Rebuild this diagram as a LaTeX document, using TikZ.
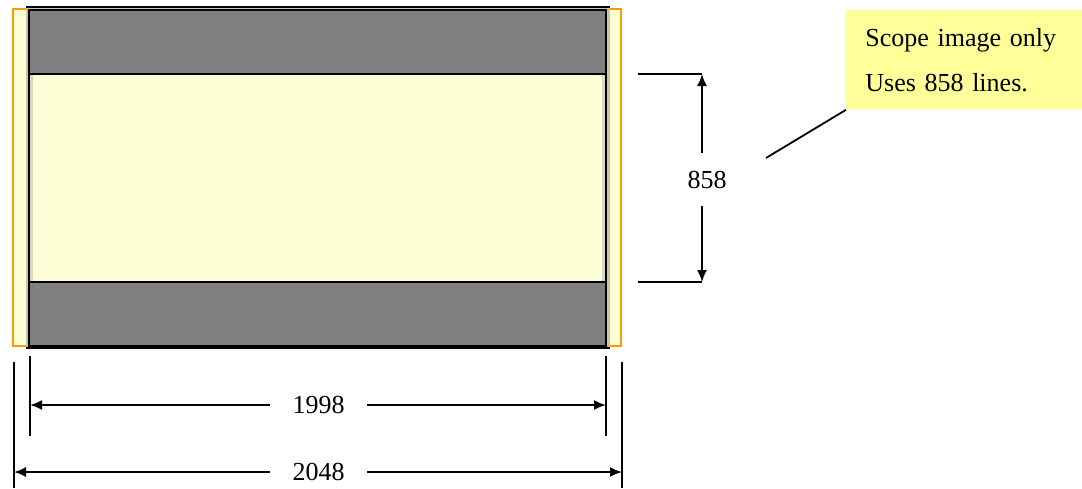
\documentclass[tikz,border=0pt]{standalone}
\usepackage{fontspec}
\setmainfont{Liberation Serif}
\usepackage{tikz}
\usetikzlibrary{arrows.meta}
\definecolor{filmyellow}{RGB}{255,255,215}
\definecolor{maskgray}{RGB}{128,128,128}
\definecolor{frameorange}{RGB}{255,153,0}
\definecolor{shadekhaki}{RGB}{200,200,160}
\definecolor{noteyellow}{RGB}{255,255,153}

\begin{document}
\begin{tikzpicture}[x=0.5pt,y=-0.5pt,
   extline/.style={line width=0.9pt},
   dimarrow/.style={line width=0.9pt,-{Latex[length=6pt,width=5pt]}},
   dimlabel/.style={font=\fontsize{13}{15.6}\selectfont,inner sep=0pt},
   note/.style={fill=noteyellow,anchor=north west,inner xsep=9.5pt,inner ysep=0pt,
     text width=99pt,minimum height=49.5pt,align=left,font=\fontsize{13}{22.5}\selectfont}]
\useasboundingbox (0,0) rectangle (1082,488);
% frames
\filldraw[fill=filmyellow,draw=frameorange,line width=1.25pt] (13,9) rectangle (621,346);
\fill[shadekhaki] (26,8) rectangle (610,348);
\draw[line width=1.25pt] (26,7) -- (610,7) (26,348) -- (610,348);
\fill[filmyellow] (29,74) rectangle (606,282);
\fill[shadekhaki!70] (29,74) rectangle (33,282) (602,74) rectangle (606,282);
\filldraw[fill=maskgray,line width=1pt] (29,10) rectangle (606,74);
\filldraw[fill=maskgray,line width=1pt] (29,282) rectangle (606,346);
\draw[line width=1pt] (29,10) rectangle (606,346);
% 858
\coordinate (t858) at (702,74);
\coordinate (b858) at (702,282);
\draw[extline] (638,74) -- (t858) (638,282) -- (b858);
\node[dimlabel,minimum height=26.5pt] (lbl858) at (707,179.5) {858};
\draw[dimarrow] (lbl858.north -| t858) -- (t858);
\draw[dimarrow] (lbl858.south -| b858) -- (b858);
% 1998
\coordinate (l1998) at (30,405);
\coordinate (r1998) at (606,405);
\draw[extline] (30,356) -- (30,436) (606,356) -- (606,436);
\node[dimlabel,minimum width=48.5pt] (lbl1998) at (318.5,405) {1998};
\draw[dimarrow] (lbl1998.west) -- (l1998);
\draw[dimarrow] (lbl1998.east) -- (r1998);
% 2048
\coordinate (l2048) at (14,472);
\coordinate (r2048) at (622,472);
\draw[extline] (14,362) -- (14,488) (622,362) -- (622,488);
\node[dimlabel,minimum width=48.5pt] (lbl2048) at (318.5,472) {2048};
\draw[dimarrow] (lbl2048.west) -- (l2048);
\draw[dimarrow] (lbl2048.east) -- (r2048);
% callout
\node[note] (scope) at (846,10) {Scope image only\\Uses 858 lines.};
\coordinate (leadend) at (766,158);
\draw[extline] (scope.south west) -- (leadend);
\end{tikzpicture}
\end{document}
